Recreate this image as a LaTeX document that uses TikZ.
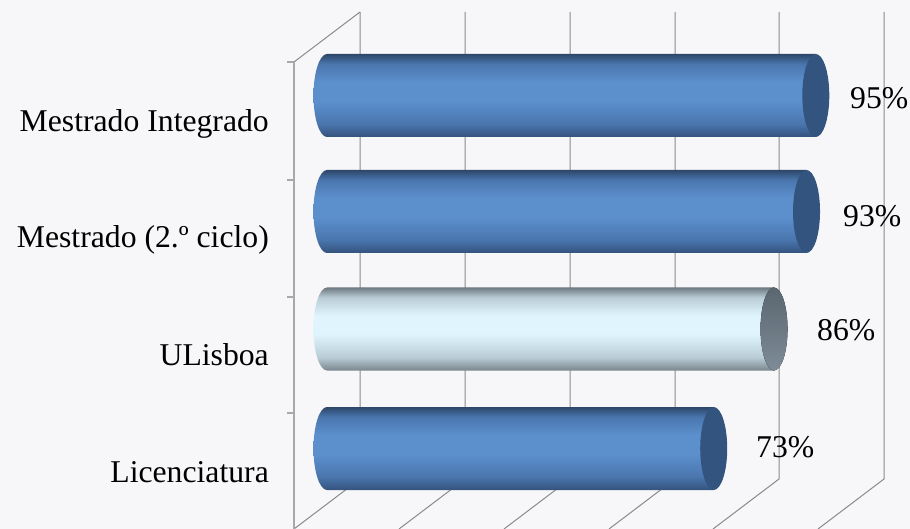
\documentclass[tikz,border=0pt]{standalone}
\usepackage{fontspec}
\setmainfont{Liberation Serif}
\usepackage{tikz}
\usetikzlibrary{positioning}
\definecolor{bg_grey}{HTML}{F7F7F9}
\definecolor{grid_grey}{HTML}{8A8A8A}
\definecolor{axis_grey}{HTML}{A8A8A8}
\definecolor{blue_edge}{HTML}{2D4669}
\definecolor{blue_low}{HTML}{34527C}
\definecolor{blue_mid}{HTML}{4A76AE}
\definecolor{blue_light}{HTML}{5C90CD}
\definecolor{blue_cap}{HTML}{32547F}
\definecolor{ice_edge}{HTML}{6E7880}
\definecolor{ice_low}{HTML}{7A858C}
\definecolor{ice_mid}{HTML}{B9CDD6}
\definecolor{ice_light}{HTML}{E0F4FD}
\definecolor{ice_cap_top}{HTML}{5A6670}
\definecolor{ice_cap_bot}{HTML}{7E8C97}
\pgfdeclareverticalshading{blue_bar}{100bp}{color(0bp)=(blue_low); color(25bp)=(blue_low); color(33bp)=(blue_mid); color(47bp)=(blue_light); color(58bp)=(blue_light); color(69bp)=(blue_mid); color(75bp)=(blue_edge); color(100bp)=(blue_edge)}
\pgfdeclareverticalshading{ice_bar}{100bp}{color(0bp)=(ice_low); color(25bp)=(ice_low); color(33bp)=(ice_mid); color(47bp)=(ice_light); color(58bp)=(ice_light); color(69bp)=(ice_mid); color(75bp)=(ice_edge); color(100bp)=(ice_edge)}
\tikzset{grid_line/.style={draw=grid_grey, line width=1pt}}
\tikzset{axis_line/.style={draw=axis_grey, line width=2pt}}
\tikzset{cat_label/.style={anchor=base east, inner sep=0pt, font=\fontsize{31.7}{36}\selectfont}}
\tikzset{val_label/.style={anchor=base west, inner sep=0pt, font=\fontsize{31.7}{36}\selectfont}}
% one cylinder: centre y, value, body shading, cap options
\newcommand{\cylbar}[4]{%
  \pgfmathsetmacro{\barend}{375+4.64*#2}
  \shade[shading=#3] (327,#1-41.5) -- (\barend,#1-41.5) -- (\barend,#1+41.5) -- (327,#1+41.5)
    arc[start angle=90, end angle=270, x radius=13.5, y radius=41.5] -- cycle;
  \fill[#4] (\barend,#1) ellipse[x radius=13.5, y radius=41.5];
}

\begin{document}
\begin{tikzpicture}[x=1pt, y=-1pt]
    \fill[bg_grey] (0,0) rectangle (910,529);
    \useasboundingbox (0,0) rectangle (910,529);
    %\draw[help lines, step=50] (0,0) grid (910,529);

    % walls and floor
    \foreach \gx in {360,465,570,675,779,884} {
        \draw[grid_line] (\gx,12) -- (\gx,479) -- ++(-66,50);
    }
    \draw[grid_line] (294,62) -- (360,12);
    \draw[axis_line] (294,62) -- (294,529);
    \foreach \ty in {62,180,297,413} {
        \draw[axis_line] (287,\ty) -- (294,\ty);
    }

    % bars
    \cylbar{95.5}{95}{blue_bar}{blue_cap}
    \cylbar{211.5}{93}{blue_bar}{blue_cap}
    \cylbar{329}{86}{ice_bar}{top color=ice_cap_top, bottom color=ice_cap_bot}
    \cylbar{448.5}{73}{blue_bar}{blue_cap}

    \node[cat_label] (lab_mi) at (269,132) {Mestrado Integrado};
    \node[cat_label] (lab_mc) at (269,248) {Mestrado (2.º ciclo)};
    \node[cat_label] (lab_ul) at (269,365) {ULisboa};
    \node[cat_label] (lab_li) at (269,482) {Licenciatura};

    \node[val_label] (val_mi) at (850,109) {95\%};
    \node[val_label] (val_mc) at (843,227) {93\%};
    \node[val_label] (val_ul) at (817,340) {86\%};
    \node[val_label] (val_li) at (756,457) {73\%};
\end{tikzpicture}
\end{document}
